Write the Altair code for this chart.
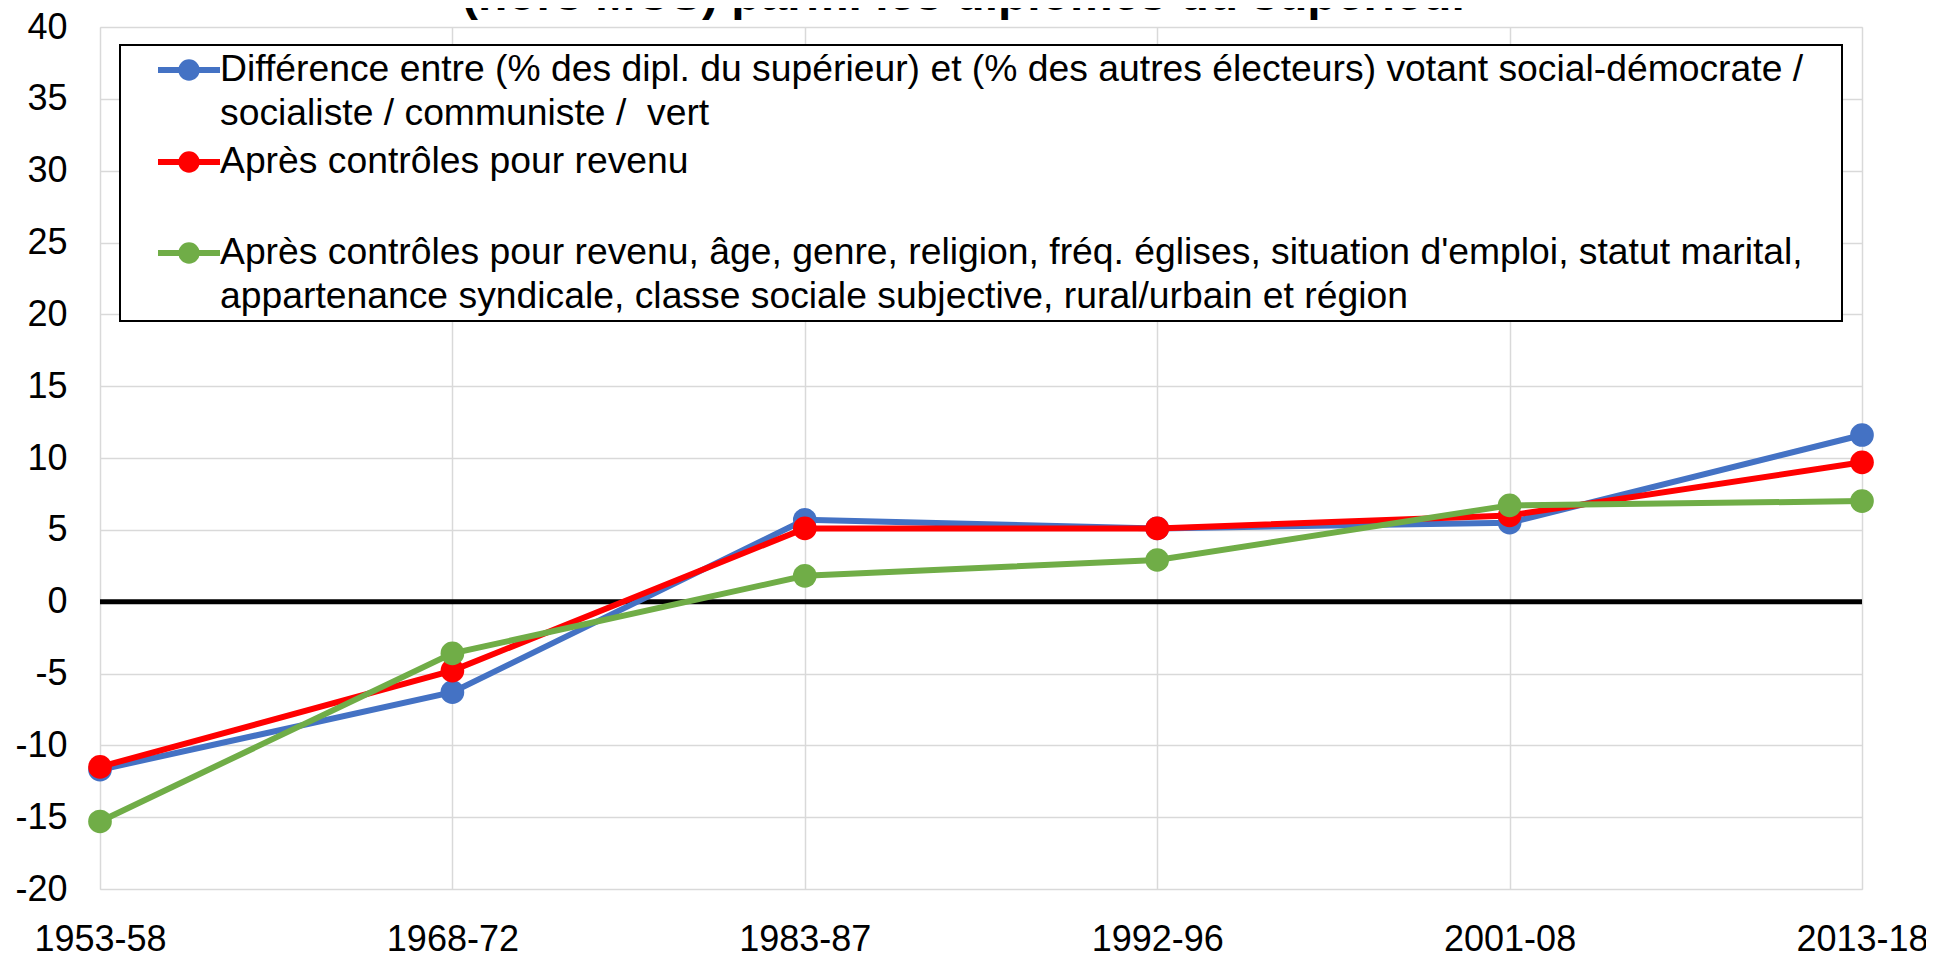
import altair as alt
import pandas as pd

periods = ["1953-58", "1968-72", "1983-87", "1992-96", "2001-08", "2013-18"]
diff_raw = [-11.7, -6.3, 5.7, 5.1, 5.5, 11.6]
after_income = [-11.5, -4.8, 5.1, 5.1, 6.0, 9.7]
after_all = [-15.3, -3.6, 1.8, 2.9, 6.7, 7.0]

series_names = ["diff", "income", "all"]
series_values = [diff_raw, after_income, after_all]
series_colors = ["#4472C4", "#FF0000", "#70AD47"]

legend_labels = [
    ["Différence entre (% des dipl. du supérieur) et (% des autres électeurs) votant social-démocrate /",
     "socialiste / communiste / \u00a0vert"],
    ["Après contrôles pour revenu"],
    ["Après contrôles pour revenu, âge, genre, religion, fréq. églises, situation d'emploi, statut marital,",
     "appartenance syndicale, classe sociale subjective, rural/urbain et région"],
]
title_text = "(hors MCS) parmi les diplômés du supérieur"

y_ticks = list(range(-20, 45, 5))

W, H = 1762, 862
FONT = "Liberation Sans"

x_enc = alt.X("period:N", sort=periods, scale=alt.Scale(type="point", padding=0),
              axis=alt.Axis(title=None, labelAngle=0, grid=True, gridColor="#d9d9d9", gridWidth=1.5,
                            domain=False, ticks=False, labelFontSize=36, labelFont=FONT,
                            labelColor="black", labelPadding=61, labelBaseline="alphabetic"))
y_enc = alt.Y("value:Q", scale=alt.Scale(domain=[-20, 40], nice=False, zero=False),
              axis=alt.Axis(title=None, values=y_ticks, grid=True, gridColor="#d9d9d9", gridWidth=1.5,
                            domain=False, ticks=False, labelFontSize=36, labelFont=FONT,
                            labelColor="black", labelPadding=33, labelExpr="'' + datum.value"))

layers = []
zero = alt.Chart(pd.DataFrame({"value": [0]})).mark_rule(color="black", strokeWidth=5).encode(
    y=y_enc
)

for name, vals, col in zip(series_names, series_values, series_colors):
    df = pd.DataFrame({"period": periods, "value": vals})
    base = alt.Chart(df).encode(x=x_enc, y=y_enc)
    layers.append(base.mark_line(color=col, strokeWidth=6))
    layers.append(base.mark_point(filled=True, size=560, color=col, opacity=1))

# legend box
one = pd.DataFrame({"a": [0]})
legend_box = alt.Chart(one).mark_rect(fill="white", stroke="black", strokeWidth=2).encode(
    x=alt.value(20), x2=alt.value(1742), y=alt.value(18), y2=alt.value(294)
)
legend_layers = [legend_box]
entry_y = [43, 135, 226]
line_gap = 44
for (lines, col, ey) in zip(legend_labels, series_colors, entry_y):
    legend_layers.append(alt.Chart(one).mark_rule(color=col, strokeWidth=6).encode(
        x=alt.value(58), x2=alt.value(120), y=alt.value(ey)))
    legend_layers.append(alt.Chart(one).mark_point(filled=True, size=460, color=col, opacity=1).encode(
        x=alt.value(89), y=alt.value(ey)))
    for i, ln in enumerate(lines):
        legend_layers.append(alt.Chart(one).mark_text(
            align="left", baseline="middle", fontSize=37.3, font=FONT, color="black").encode(
            x=alt.value(120), y=alt.value(ey + i * line_gap), text=alt.value(ln)))

title = alt.Chart(one).mark_text(align="center", baseline="alphabetic", fontSize=48,
                                  fontWeight="bold", font=FONT, color="black").encode(
    x=alt.value(866), y=alt.value(-17), text=alt.value(title_text))

chart = alt.layer(zero, *layers, *legend_layers, title).properties(
    width=W, height=H,
    autosize=alt.AutoSizeParams(type="none"),
    padding={"left": 92, "top": 19, "right": 64, "bottom": 62},
).configure_view(stroke="black", strokeWidth=2).configure(background="white")

chart.save("out.html", embed_options={"renderer": "svg", "actions": False})
